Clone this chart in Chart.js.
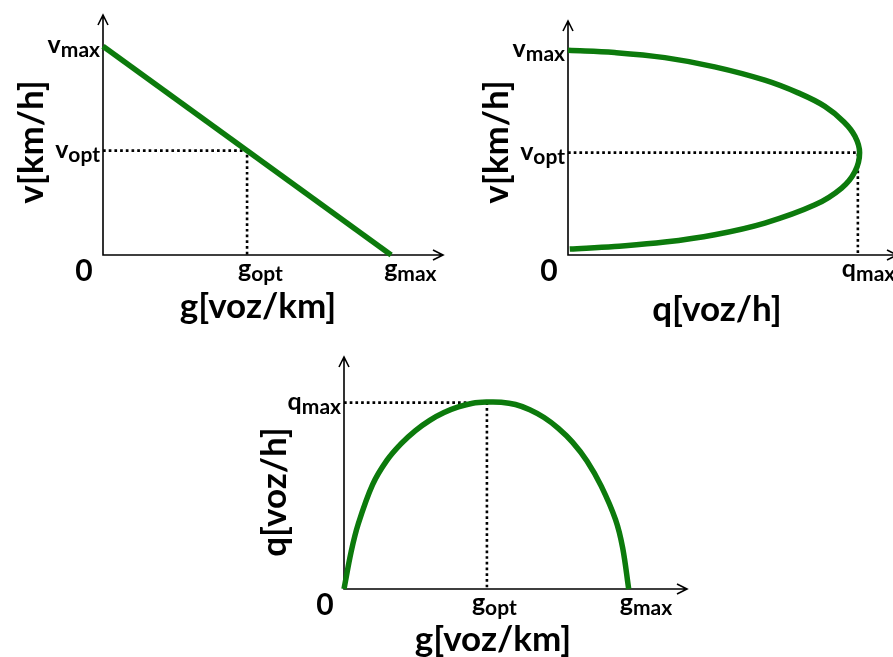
<!DOCTYPE html>
<html>
<head>
<meta charset="utf-8">
<script src="https://cdn.jsdelivr.net/npm/chart.js@4.4.1/dist/chart.umd.min.js"></script>
<style>
  html, body { margin: 0; padding: 0; background: #fff; overflow: hidden; width: 893px; height: 657px; }
  canvas { position: absolute; }
  #c1 { left: 0; top: 0; }
  #c2 { left: 450px; top: 0; }
  #c3 { left: 250px; top: 340px; }
</style>
</head>
<body>
<canvas id="c1" width="450" height="330"></canvas>
<canvas id="c2" width="460" height="330"></canvas>
<canvas id="c3" width="450" height="317"></canvas>
<script>
'use strict';

/** Data */
// top-left: v over g (straight line)
let densG1 = [0, 100];
let speedV1 = [100, 0];

// top-right: v over q (top branch then bottom branch)
let flowQ2 = [0, 16.1, 33.4, 50.6, 67.9, 79.4, 88.6, 95.2, 99.0, 100.6, 99.0, 94.4, 85.2, 67.9, 50.6, 33.4, 16.1, 0.6];
let speedV2 = [100, 98.9, 96.4, 91.9, 85.4, 79.2, 72.6, 65.0, 58.0, 50.0, 40.8, 32.7, 24.5, 15.6, 9.9, 6.3, 4.2, 2.9];

// bottom: q over g
let densG3 = [0, 2.5, 5, 10, 15, 20, 25, 30, 35, 40, 45, 50, 55, 60, 65, 70, 75, 80, 85, 90, 95, 97.5, 99.6];
let flowQ3 = [0, 20, 35, 56, 69, 78, 85, 90.5, 94.7, 97.7, 99.7, 100.3, 100.2, 99, 96.2, 92, 86.2, 78.7, 68.7, 55.2, 37.2, 22, 0];

// reference values
let vMax = 100;
let vOpt = 50;
let gOpt = 50;
let gMax = 100;
let qMax = 100;

// tick labels (value, main letter, subscript)
let ticks1X = [[gOpt, 'g', 'opt'], [gMax, 'g', 'max']];
let ticks1Y = [[vMax, 'v', 'max'], [vOpt, 'v', 'opt']];
let ticks2X = [[qMax, 'q', 'max']];
let ticks2Y = [[vMax, 'v', 'max'], [vOpt, 'v', 'opt']];
let ticks3X = [[gOpt, 'g', 'opt'], [gMax, 'g', 'max']];
let ticks3Y = [[qMax, 'q', 'max']];

let titles1 = ['g[voz/km]', 'v[km/h]'];
let titles2 = ['q[voz/h]', 'v[km/h]'];
let titles3 = ['g[voz/km]', 'q[voz/h]'];

/** Helpers */
const GREEN = '#0c7a0c';
const FONT = 'Lato, "Open Sans", sans-serif';

function toPoints(xs, ys) {
  let pts = [];
  for (let i = 0; i < xs.length; i++) {
    pts.push({ x: xs[i], y: ys[i] });
  }
  return pts;
}

function drawSub(ctx, main, sub, x, y, align) {
  ctx.font = 'bold 25px ' + FONT;
  let w1 = ctx.measureText(main).width;
  ctx.font = 'bold 21px ' + FONT;
  let w2 = ctx.measureText(sub).width;
  let left = align === 'right' ? x - w1 - w2 : x;
  ctx.textAlign = 'left';
  ctx.textBaseline = 'alphabetic';
  ctx.font = 'bold 25px ' + FONT;
  ctx.fillText(main, left, y);
  ctx.font = 'bold 21px ' + FONT;
  ctx.fillText(sub, left + w1, y + 4);
}

// axes with arrows, labels and titles
const sketchAxes = {
  id: 'sketchAxes',
  beforeDatasetsDraw(chart, args, opts) {
    let ctx = chart.ctx;
    let a = chart.chartArea;
    ctx.save();
    ctx.strokeStyle = '#000';
    ctx.lineWidth = 1.6;
    ctx.beginPath();
    ctx.moveTo(a.left, a.top);
    ctx.lineTo(a.left, a.bottom);
    ctx.lineTo(a.right, a.bottom);
    // arrow heads
    ctx.moveTo(a.left - 5, a.top + 10);
    ctx.lineTo(a.left, a.top);
    ctx.lineTo(a.left + 5, a.top + 10);
    ctx.moveTo(a.right - 10, a.bottom - 5);
    ctx.lineTo(a.right, a.bottom);
    ctx.lineTo(a.right - 10, a.bottom + 5);
    ctx.stroke();
    ctx.restore();
  },
  afterDatasetsDraw(chart, args, opts) {
    let ctx = chart.ctx;
    let a = chart.chartArea;
    let xs = chart.scales.x;
    let ys = chart.scales.y;
    ctx.save();
    ctx.fillStyle = '#000';

    opts.xTicks.forEach(function (t, i) {
      drawSub(ctx, t[1], t[2], xs.getPixelForValue(t[0]) - opts.xShift[i], a.bottom + 22, 'left');
    });
    opts.yTicks.forEach(function (t) {
      drawSub(ctx, t[1], t[2], a.left - 3, ys.getPixelForValue(t[0]) + 7, 'right');
    });

    ctx.font = 'bold 30px ' + FONT;
    ctx.textAlign = 'center';
    ctx.textBaseline = 'middle';
    ctx.fillText('0', a.left - 19, a.bottom + 16);

    ctx.font = 'bold 35px ' + FONT;
    ctx.fillText(opts.titles[0], opts.xTitle[0], opts.xTitle[1]);
    ctx.translate(opts.yTitle[0], opts.yTitle[1]);
    ctx.rotate(-Math.PI / 2);
    ctx.fillText(opts.titles[1], 0, 0);
    ctx.restore();
  }
};

function makeChart(id, curve, dotted, scales, padding, axesOpts, curveStyle) {
  let canvas = document.getElementById(id);
  let curveSet = {
    data: curve,
    showLine: true,
    borderColor: GREEN,
    borderWidth: 5.5,
    pointRadius: 0,
    clip: false
  };
  Object.assign(curveSet, curveStyle);
  return new Chart(canvas, {
    type: 'scatter',
    data: {
      datasets: [
        curveSet,
        {
          data: dotted,
          showLine: true,
          borderColor: '#000',
          borderWidth: 2.6,
          borderDash: [2.7, 3],
          pointRadius: 0,
          tension: 0,
          clip: false
        }
      ]
    },
    options: {
      responsive: false,
      animation: false,
      events: [],
      layout: { padding: padding },
      scales: {
        x: { type: 'linear', display: false, min: 0, max: scales[0] },
        y: { type: 'linear', display: false, min: 0, max: scales[1] }
      },
      plugins: {
        legend: { display: false },
        tooltip: { enabled: false },
        sketchAxes: axesOpts
      }
    },
    plugins: [sketchAxes]
  });
}

/** Executables */
makeChart('c1',
  toPoints(densG1, speedV1),
  toPoints([0, gOpt, gOpt], [vOpt, vOpt, 0]),
  [118, 115],
  { left: 103, right: 7, top: 15, bottom: 75 },
  { xTicks: ticks1X, yTicks: ticks1Y, xShift: [9, 7], titles: titles1, xTitle: [258, 307], yTitle: [32, 142] },
  { tension: 0 }
);

makeChart('c2',
  toPoints(flowQ2, speedV2),
  toPoints([0, qMax, qMax], [vOpt, vOpt, 0]),
  [113.5, 114.3],
  { left: 118, right: 13, top: 21, bottom: 75 },
  { xTicks: ticks2X, yTicks: ticks2Y, xShift: [16], titles: titles2, xTitle: [267, 310], yTitle: [47, 142] },
  { tension: 0.4 }
);

makeChart('c3',
  toPoints(densG3, flowQ3),
  toPoints([0, gOpt, gOpt], [qMax, qMax, 0]),
  [120, 124.5],
  { left: 94, right: 13, top: 17, bottom: 68 },
  { xTicks: ticks3X, yTicks: ticks3Y, xShift: [15, 10], titles: titles3, xTitle: [243, 300], yTitle: [25, 152] },
  { tension: 0.35 }
);
</script>
</body>
</html>
